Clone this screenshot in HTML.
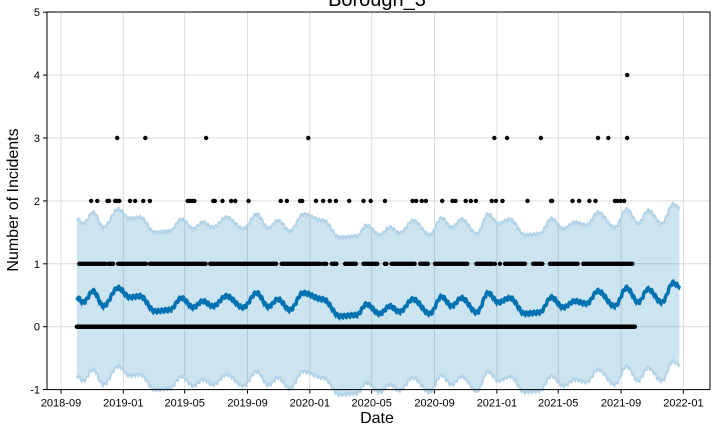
<!DOCTYPE html>
<html><head><meta charset="utf-8"><style>
body{margin:0;background:#fff;width:720px;height:432px;overflow:hidden}
svg{display:block;font-family:"Liberation Sans","DejaVu Sans",sans-serif}
</style></head><body>
<svg id="chart" width="720" height="432">
<g id="grid"></g>
<g id="band"></g>
<g id="obs"></g>
<g id="fc"></g>
<g id="axes"></g>
<text x="377" y="6" font-size="20" text-anchor="middle" fill="#000">Borough_3</text>
<text x="377" y="423" font-size="16" text-anchor="middle" fill="#000">Date</text>
<text transform="translate(18,200) rotate(-90)" font-size="16" text-anchor="middle" fill="#000">Number of Incidents</text>
</svg>
<script>
// days since 2018-09-01
const xTickLabels=["2018-09","2019-01","2019-05","2019-09","2020-01","2020-05","2020-09","2021-01","2021-05","2021-09","2022-01"];
const xTickDays=[0,122,242,365,487,608,731,853,973,1096,1218];
const yTicks=[-1,0,1,2,3,4,5];
const trendDays=[31,44,63,83,112,135,155,184,213,236,259,278,298,324,357,383,406,425,448,474,513,546,579,598,624,644,663,689,722,745,765,784,814,836,856,879,908,937,960,983,1006,1029,1051,1084,1107,1130,1149,1176,1198,1210];
const trendVals=[0.47,0.39,0.57,0.33,0.62,0.47,0.49,0.25,0.27,0.46,0.31,0.41,0.33,0.49,0.31,0.54,0.32,0.44,0.27,0.54,0.44,0.17,0.19,0.36,0.21,0.33,0.24,0.44,0.21,0.48,0.33,0.46,0.23,0.54,0.39,0.46,0.21,0.23,0.47,0.31,0.41,0.37,0.57,0.33,0.62,0.39,0.60,0.39,0.70,0.65];
const weekly=[0.015,0.02,0.01,-0.005,-0.02,-0.025,0.005];
const intervalHalf=1.25;
const zeroRange=[31,1123];
const oneRuns=[[36,89],[93,102],[112,168],[174,259],[262,285],[292,422],[432,507],[513,520],[530,540],[556,579],[592,621],[634,637],[647,693],[703,719],[732,797],[813,843],[849,849],[859,859],[869,908],[924,944],[957,1012],[1022,1120]];
const twoDays=[59,71,91,94,106,109,114,135,145,161,174,248,252,257,261,298,301,316,333,341,367,430,442,468,472,499,513,526,538,564,592,606,634,688,695,706,714,746,766,772,792,802,812,843,851,864,913,959,961,1001,1014,1034,1046,1084,1089,1095,1102];
const threeDays=[110,165,284,484,848,873,939,1051,1071,1108];
const fourDays=[1108];

const NS="http://www.w3.org/2000/svg";
const L=47,R=710,T=12,B=389.6;
const X=d=>61+d*0.511;
const Y=v=>326.7-62.9*v;
function mk(tag,attrs,parent){const e=document.createElementNS(NS,tag);for(const k in attrs)e.setAttribute(k,attrs[k]);parent.appendChild(e);return e;}
function trendAt(d){
  if(d<=trendDays[0])return trendVals[0];
  for(let i=1;i<trendDays.length;i++){if(d<=trendDays[i]){const a=trendDays[i-1],b=trendDays[i];const t=(d-a)/(b-a);const s=(1-Math.cos(Math.PI*t))/2;return trendVals[i-1]+(trendVals[i]-trendVals[i-1])*s;}}
  return trendVals[trendVals.length-1];
}
const grid=document.getElementById('grid');
xTickDays.forEach((d,i)=>{const l=mk('line',{x1:X(d),x2:X(d),y1:T,y2:B,stroke:'#dcdcdc','stroke-width':1},grid);

});
yTicks.forEach(v=>{const l=mk('line',{x1:L,x2:R,y1:Y(v),y2:Y(v),stroke:'#dcdcdc','stroke-width':1},grid);

});
const d0=trendDays[0],d1=trendDays[trendDays.length-1];
let up=[],lo=[],mid=[];
for(let d=d0;d<=d1;d++){const v=trendAt(d)+weekly[d%7];mid.push([X(d),Y(v)]);up.push([X(d),Y(v+intervalHalf)]);lo.push([X(d),Y(v-intervalHalf)]);}
const bandG=document.getElementById('band');
const poly=up.concat(lo.slice().reverse()).map(p=>p.join(',')).join(' ');
const bp=mk('polygon',{points:poly,fill:'#0072B2','fill-opacity':0.2,stroke:'none'},bandG);


const ue=mk('polyline',{points:up.map(p=>p.join(',')).join(' '),fill:'none',stroke:'#b3d3e8','stroke-width':2},bandG);


const le=mk('polyline',{points:lo.map(p=>p.join(',')).join(' '),fill:'none',stroke:'#b3d3e8','stroke-width':2},bandG);


const obs=document.getElementById('obs');
function dot(d,v){const c=mk('circle',{cx:X(d),cy:Y(v),r:2.2,fill:'#000'},obs);

}
for(let d=zeroRange[0];d<=zeroRange[1];d++)dot(d,0);
oneRuns.forEach(r=>{for(let d=r[0];d<=r[1];d+=3)dot(d,1);});
twoDays.forEach(d=>dot(d,2));
threeDays.forEach(d=>dot(d,3));
fourDays.forEach(d=>dot(d,4));
const fc=document.getElementById('fc');
const fl=mk('polyline',{points:mid.map(p=>p.join(',')).join(' '),fill:'none',stroke:'#0072B2','stroke-width':3.5},fc);


const ax=document.getElementById('axes');
const fr=mk('rect',{x:L,y:T,width:R-L,height:B-T,fill:'none',stroke:'#000','stroke-width':1},ax);


xTickDays.forEach((d,i)=>{mk('line',{x1:X(d),x2:X(d),y1:B,y2:B+4,stroke:'#000'},ax);
const t=mk('text',{x:X(d),y:B+17,'font-size':11,'text-anchor':'middle',fill:'#000'},ax);t.textContent=xTickLabels[i];

});
yTicks.forEach(v=>{mk('line',{x1:L-4,x2:L,y1:Y(v),y2:Y(v),stroke:'#000'},ax);
const t=mk('text',{x:L-7,y:Y(v)+4,'font-size':11,'text-anchor':'end',fill:'#000'},ax);t.textContent=v;

});
</script>
</body></html>
